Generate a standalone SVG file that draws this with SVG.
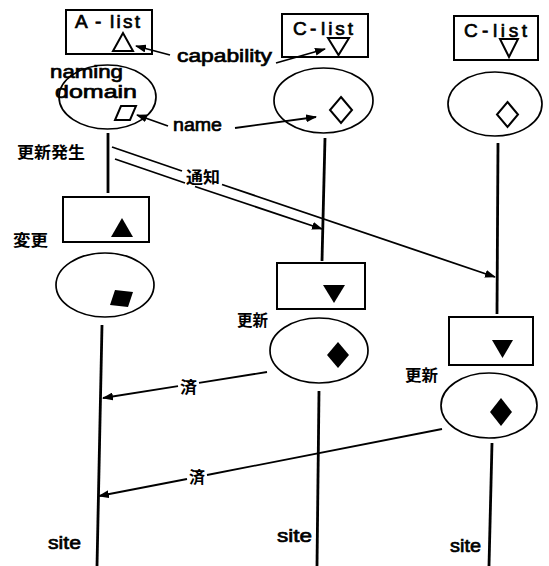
<svg xmlns="http://www.w3.org/2000/svg" width="549" height="566" viewBox="0 0 549 566">
<style>
.bx{fill:#fff;stroke:#000;stroke-width:2}
.el{fill:none;stroke:#000;stroke-width:1.7}
.sh{fill:none;stroke:#000;stroke-width:2}
.fs{fill:#000;stroke:none}
.ln{stroke:#000;stroke-width:2.8;fill:none}
.ar{stroke:#000;stroke-width:1.8;fill:none}
.t{font-family:"Liberation Sans",Arial,sans-serif;font-weight:normal;font-size:19px;fill:#000;stroke:#000;stroke-width:0.7}
.j{font-family:"Noto Sans CJK JP","Noto Sans CJK SC",sans-serif;font-weight:bold;font-size:16px;fill:#000}
</style>
<defs>
<marker id="ah" markerUnits="userSpaceOnUse" markerWidth="11" markerHeight="8" refX="10" refY="4" orient="auto">
<path d="M0,0 L11,4 L0,8 z" fill="#000"/>
</marker>
</defs>
<rect width="549" height="566" fill="#fff"/>

<g id="site-a-capability">
<rect class="bx" x="66" y="10" width="86" height="44"/>
<text class="t"><tspan x="75" y="28">A</tspan><tspan x="95" y="28">-</tspan><tspan x="110" y="28" textLength="30" lengthAdjust="spacing">list</tspan></text>
<polygon class="sh" points="123,33 113,51 133,51"/>
</g>
<g id="site-a-domain">
<ellipse class="el" cx="107.5" cy="97" rx="48.5" ry="32"/>
<text class="t" x="50" y="78" textLength="73" lengthAdjust="spacingAndGlyphs">naming</text>
<text class="t" x="55" y="98" textLength="82" lengthAdjust="spacingAndGlyphs">domain</text>
<polygon class="sh" points="121,106 136,106 130,120 115,120"/>
</g>

<g id="site-b-capability">
<rect class="bx" x="282" y="14" width="86" height="43"/>
<text class="t"><tspan x="293" y="35">C</tspan><tspan x="310" y="35">-</tspan><tspan x="321" y="35" textLength="32" lengthAdjust="spacing">list</tspan></text>
<polygon class="sh" points="328,38 349,38 338.5,55"/>
</g>
<g id="site-b-domain">
<ellipse class="el" cx="323.5" cy="100.5" rx="49.5" ry="32.5"/>
<polygon class="sh" points="341,97 352,110 341,123 330,110"/>
</g>

<g id="site-c-capability">
<rect class="bx" x="454" y="16" width="84" height="44"/>
<text class="t"><tspan x="464" y="37">C</tspan><tspan x="482" y="37">-</tspan><tspan x="493" y="37" textLength="34" lengthAdjust="spacing">list</tspan></text>
<polygon class="sh" points="500,39 518,39 509,57"/>
</g>
<g id="site-c-domain">
<ellipse class="el" cx="495" cy="104" rx="47" ry="32"/>
<polygon class="sh" points="507.5,102 518,114.5 507.5,127 497,114.5"/>
</g>

<g id="site-a-changed-capability">
<rect class="bx" x="63" y="197" width="86" height="45"/>
<polygon class="fs" points="122,218 111,237 133,237"/>
</g>
<g id="site-a-changed-domain">
<ellipse class="el" cx="105" cy="285" rx="49" ry="32"/>
<polygon class="fs" points="115,290 133,292 128,307 110,305"/>
</g>

<g id="site-b-updated-capability">
<rect class="bx" x="277" y="263" width="88" height="46"/>
<polygon class="fs" points="323,285 345,285 334,303"/>
</g>
<g id="site-b-updated-domain">
<ellipse class="el" cx="319" cy="350.5" rx="49" ry="32.5"/>
<polygon class="fs" points="338,342 349,355 338,368 327,355"/>
</g>

<g id="site-c-updated-capability">
<rect class="bx" x="449" y="317" width="84" height="48"/>
<polygon class="fs" points="492,340 513,340 502.5,358"/>
</g>
<g id="site-c-updated-domain">
<ellipse class="el" cx="489" cy="405.5" rx="48" ry="32.5"/>
<polygon class="fs" points="501,398 512,412 501,426 490,412"/>
</g>

<g id="labels">
<text class="t" x="177" y="62" textLength="95" lengthAdjust="spacingAndGlyphs">capability</text>
<text class="t" x="173" y="131" textLength="49" lengthAdjust="spacingAndGlyphs">name</text>
<text class="t" x="48" y="549" textLength="33" lengthAdjust="spacingAndGlyphs">site</text>
<text class="t" x="277" y="542" textLength="35" lengthAdjust="spacingAndGlyphs">site</text>
<text class="t" x="450" y="552" textLength="31" lengthAdjust="spacingAndGlyphs">site</text>
<text class="j" x="17" y="158" font-size="17" textLength="68" lengthAdjust="spacingAndGlyphs">更新発生</text>
<text class="j" x="186" y="183" font-size="17" textLength="34" lengthAdjust="spacingAndGlyphs">通知</text>
<text class="j" x="13" y="246" font-size="17" textLength="35" lengthAdjust="spacingAndGlyphs">変更</text>
<text class="j" x="237" y="326" textLength="31" lengthAdjust="spacingAndGlyphs">更新</text>
<text class="j" x="405" y="381" textLength="33" lengthAdjust="spacingAndGlyphs">更新</text>
<text class="j" x="180" y="393" textLength="17" lengthAdjust="spacingAndGlyphs">済</text>
<text class="j" x="189" y="483" textLength="16" lengthAdjust="spacingAndGlyphs">済</text>
</g>

<g id="connectors">
<line class="ln" x1="108" y1="133" x2="108" y2="193"/>
<line class="ln" x1="102" y1="325" x2="97" y2="566"/>
<line class="ln" x1="325" y1="138" x2="322" y2="261"/>
<line class="ln" x1="319" y1="391" x2="317" y2="566"/>
<line class="ln" x1="498" y1="143" x2="497" y2="314"/>
<line class="ln" x1="492" y1="443" x2="489" y2="566"/>

<line class="ar" x1="170" y1="55" x2="136" y2="46" marker-end="url(#ah)"/>
<line class="ar" x1="276" y1="63" x2="325" y2="49" marker-end="url(#ah)"/>
<line class="ar" x1="168" y1="126" x2="137" y2="115" marker-end="url(#ah)"/>
<line class="ar" x1="235" y1="128" x2="316" y2="117" marker-end="url(#ah)"/>

<line class="ar" x1="112" y1="147" x2="182" y2="171"/>
<line class="ar" x1="222" y1="184.5" x2="495" y2="277" marker-end="url(#ah)"/>
<line class="ar" x1="115" y1="159" x2="185" y2="183"/>
<line class="ar" x1="195" y1="186.5" x2="322" y2="229" marker-end="url(#ah)"/>

<line class="ar" x1="267" y1="372" x2="199" y2="382.8"/>
<line class="ar" x1="178" y1="386.2" x2="103" y2="398" marker-end="url(#ah)"/>
<line class="ar" x1="442" y1="429" x2="207" y2="475"/>
<line class="ar" x1="187" y1="479" x2="99" y2="496" marker-end="url(#ah)"/>
</g>
</svg>
